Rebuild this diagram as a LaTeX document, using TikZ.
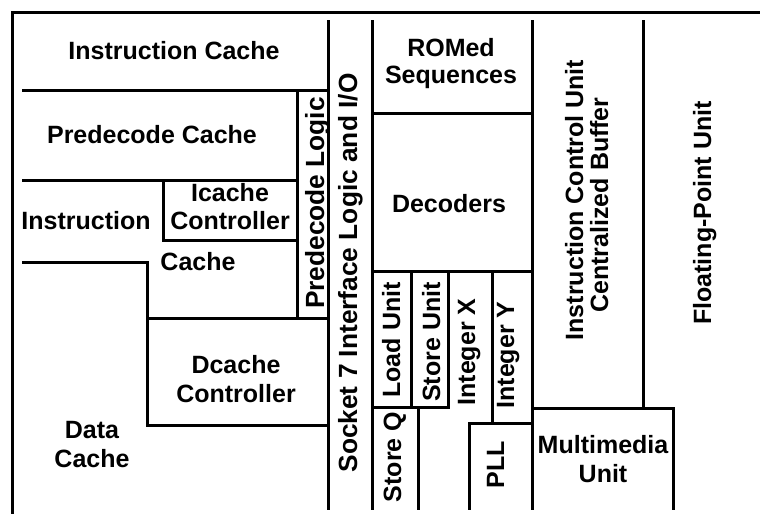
\documentclass[tikz,border=0pt]{standalone}
\usepackage{fontspec}
\setmainfont{Liberation Sans}
\begin{document}
\begin{tikzpicture}[x=1pt,y=-1pt,
  wall/.style={line width=3pt, line cap=rect, line join=miter},
  lbl/.style={font=\fontsize{25}{29}\bfseries\selectfont, inner sep=0pt, anchor=base},
  vlbl/.style={lbl, rotate=90},
  biglbl/.style={vlbl, font=\fontsize{26.3}{29}\bfseries\selectfont}]
\useasboundingbox (0,0) rectangle (760,515);
\fill[white] (0,0) rectangle (760,515);
% outer frame
\draw[wall] (12,512) -- (12,12) -- (760,12);
% left block
\draw[wall] (23,90) -- (328,90);
\draw[wall] (297,90) -- (297,318);
\draw[wall] (23,180) -- (297,180);
\draw[wall] (163,180) -- (163,240) -- (297,240);
\draw[wall] (23,262) -- (147,262) -- (147,425) -- (328,425);
\draw[wall] (147,318) -- (328,318);
% socket column
\draw[wall] (328,21) -- (328,508);
\draw[wall] (372,21) -- (372,508);
% middle block
\draw[wall] (372,113) -- (532,113);
\draw[wall] (532,21) -- (532,508);
\draw[wall] (643,21) -- (643,408);
\draw[wall] (532,408) -- (673,408) -- (673,508);
\draw[wall] (372,271) -- (532,271);
\draw[wall] (411,271) -- (411,407);
\draw[wall] (448,271) -- (448,407);
\draw[wall] (372,407) -- (448,407);
\draw[wall] (418,407) -- (418,508);
\draw[wall] (492,271) -- (492,423);
\draw[wall] (469,508) -- (469,423) -- (532,423);
% labels
\node[lbl] (ic) at (174,59) {Instruction Cache};
\node[lbl] (pc) at (152,143) {Predecode Cache};
\node[lbl] (icc1) at (230,201) {Icache};
\node[lbl] (icc2) at (230,229) {Controller};
\node[lbl] (ins1) at (86,229) {Instruction};
\node[lbl] (ins2) at (198,270) {Cache};
\node[lbl] (dc1) at (236,373) {Dcache};
\node[lbl] (dc2) at (236,402) {Controller};
\node[lbl] (da1) at (92,438) {Data};
\node[lbl] (da2) at (92,467) {Cache};
\node[lbl] (rom1) at (451,56) {ROMed};
\node[lbl] (rom2) at (451,83) {Sequences};
\node[lbl] (dec) at (449,212) {Decoders};
\node[lbl] (mm1) at (603,453) {Multimedia};
\node[lbl] (mm2) at (603,482) {Unit};
\node[biglbl] (pl) at (324,203) {Predecode Logic};
\node[biglbl] (sock) at (357,273) {Socket 7 Interface Logic and I/O};
\node[vlbl] (icu1) at (583,200) {Instruction Control Unit};
\node[vlbl] (icu2) at (608,205) {Centralized Buffer};
\node[vlbl] (fpu) at (711,213) {Floating-Point Unit};
\node[vlbl] (lu) at (400,340) {Load Unit};
\node[vlbl] (su) at (440,342) {Store Unit};
\node[vlbl] (ix) at (475,352) {Integer X};
\node[vlbl] (iy) at (514,355) {Integer Y};
\node[vlbl] (sq) at (401,457) {Store Q};
\node[vlbl] (pll) at (504,465) {PLL};
\end{tikzpicture}
\end{document}
